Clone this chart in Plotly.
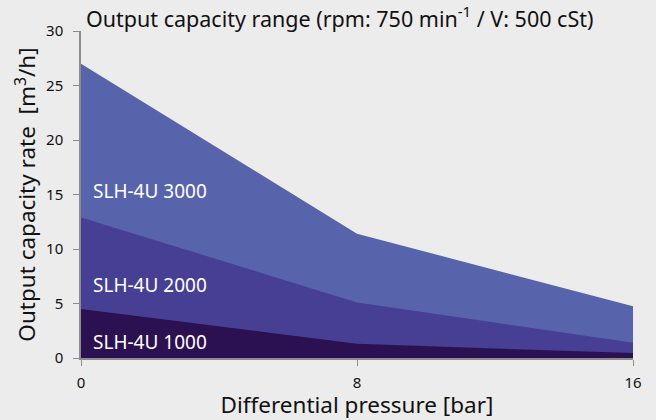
import plotly.graph_objects as go

pressure = [0, 8, 16]
models = ["SLH-4U 3000", "SLH-4U 2000", "SLH-4U 1000"]
capacity_3000 = [27.0, 11.4, 4.75]
capacity_2000 = [12.9, 5.1, 1.4]
capacity_1000 = [4.5, 1.3, 0.45]
label_y = [15.3, 6.7, 1.5]
colors = ["#5763ab", "#463f94", "#2c1152"]

series = [capacity_3000, capacity_2000, capacity_1000]
font = "Noto Sans, Open Sans, sans-serif"

fig = go.Figure()
for name, vals, c in zip(models, series, colors):
    fig.add_trace(go.Scatter(x=pressure, y=vals, mode="lines", fill="tozeroy",
                             fillcolor=c, line=dict(width=0, color=c), name=name,
                             showlegend=False, hoverinfo="skip"))

for name, ly in zip(models, label_y):
    fig.add_annotation(x=0, y=ly, text=name, showarrow=False, xanchor="left",
                       yanchor="middle", xshift=10,
                       font=dict(family=font, size=19, color="white"))

fig.update_layout(
    width=656, height=420,
    paper_bgcolor="#ececec", plot_bgcolor="#ececec",
    margin=dict(l=81, r=23, t=31, b=62),
    title=dict(text="Output capacity range (rpm: 750 min<sup>-1</sup> / V: 500 cSt)",
               x=86/656, xanchor="left", y=1 - 19/420, yanchor="middle",
               font=dict(family=font, size=21.5, color="#111")),
    font=dict(family=font, color="#111"),
)
fig.update_xaxes(range=[0, 16], tickvals=pressure, showgrid=False, zeroline=False,
                 showline=True, linecolor="#8c8c8c", linewidth=1.5,
                 ticks="outside", ticklen=6, tickcolor="#8c8c8c",
                 tickfont=dict(size=15, family=font), automargin=False, ticklabelstandoff=4,
                 title=dict(text="Differential pressure [bar]", font=dict(size=22.5, family=font), standoff=4))
fig.update_yaxes(range=[0, 30], tickvals=[0, 5, 10, 15, 20, 25, 30], showgrid=False, zeroline=False,
                 showline=True, linecolor="#8c8c8c", linewidth=1.5,
                 ticks="outside", ticklen=6, tickcolor="#8c8c8c",
                 tickfont=dict(size=15, family=font), automargin=False, ticklabelstandoff=7,
                 title=dict(text="Output capacity rate  [m<sup>3</sup>/h]", font=dict(size=22.5, family=font), standoff=4))

fig.write_html("out.html", config={"displayModeBar": False},
               post_script="document.body.style.margin='0';")
